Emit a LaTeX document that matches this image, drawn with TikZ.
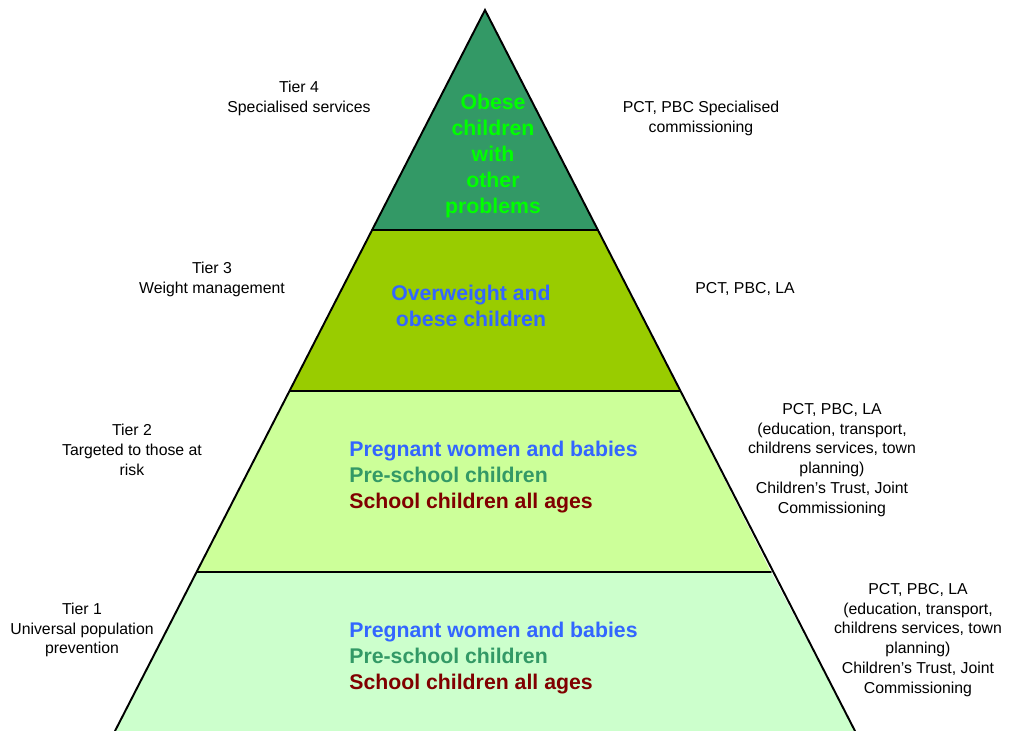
\documentclass[tikz,border=0pt]{standalone}
\usepackage{fontspec}
\setmainfont{Liberation Sans}
\usetikzlibrary{positioning}
\definecolor{TierDark}{RGB}{51,153,102}
\definecolor{TierOlive}{RGB}{153,204,0}
\definecolor{TierLime}{RGB}{204,255,153}
\definecolor{TierMint}{RGB}{204,255,204}
\definecolor{TextLime}{RGB}{0,255,0}
\definecolor{TextBlue}{RGB}{51,102,255}
\definecolor{TextTeal}{RGB}{51,153,102}
\definecolor{TextMaroon}{RGB}{128,0,0}
\tikzset{
  edge/.style={draw=black,line width=1.1pt,line cap=round,line join=miter},
  sidelabel/.style={
    align=center,
    inner sep=0pt,
    font=\fontsize{9}{11.3}\selectfont
  },
  tiertext/.style={
    inner sep=0pt,
    font=\fontsize{12.1}{14.7}\selectfont\bfseries
  }
}

\begin{document}
\begin{tikzpicture}[x=0.02cm,y=-0.02cm]

\useasboundingbox (0,0) rectangle (1009,731);

% corners of the pyramid
\coordinate (apex) at (485,10);
\coordinate (t4l) at (372,230);
\coordinate (t4r) at (598,230);
\coordinate (t3l) at (290,391);
\coordinate (t3r) at (680,391);
\coordinate (t2l) at (197,572);
\coordinate (t2r) at (771,572);
\coordinate (bl) at (115,731);
\coordinate (br) at (855,731);

% tier fills
\fill[TierDark] (apex) -- (t4r) -- (t4l) -- cycle;
\fill[TierOlive] (t4l) -- (t4r) -- (t3r) -- (t3l) -- cycle;
\fill[TierLime] (t3l) -- (t3r) -- (t2r) -- (t2l) -- cycle;
\fill[TierMint] (t2l) -- (t2r) -- (br) -- (bl) -- cycle;

% outline
\draw[edge] (bl) -- (apex) -- (br);
\draw[edge] (t4l) -- (t4r);
\draw[edge] (t3l) -- (t3r);
\draw[edge] (t2l) -- (t2r);

% text inside the tiers
\node[tiertext,align=center,text=TextLime] (in4) at (493,156)
  {Obese\\children\\with\\other\\problems};
\node[tiertext,align=center,text=TextBlue] (in3) at (471,306)
  {Overweight and\\obese children};
\node[tiertext,align=left,anchor=west] (in2) at (349,477)
  {\textcolor{TextBlue}{Pregnant women and babies}\\
   \textcolor{TextTeal}{Pre-school children}\\
   \textcolor{TextMaroon}{School children all ages}};
\node[tiertext,align=left,anchor=west] (in1) at (349,658)
  {\textcolor{TextBlue}{Pregnant women and babies}\\
   \textcolor{TextTeal}{Pre-school children}\\
   \textcolor{TextMaroon}{School children all ages}};

% tier names
\node[sidelabel] (name4) at (299,98) {Tier 4\\Specialised services};
\node[sidelabel] (name3) at (212,279) {Tier 3\\Weight management};
\node[sidelabel] (name2) at (132,450) {Tier 2\\Targeted to those at\\risk};
\node[sidelabel] (name1) at (82,630) {Tier 1\\Universal population\\prevention};

% who commissions
\node[sidelabel] (who4) at (701,118) {PCT, PBC Specialised\\commissioning};
\node[sidelabel] (who3) at (745,289) {PCT, PBC, LA};
\node[sidelabel] (who2) at (832,460)
  {PCT, PBC, LA\\(education, transport,\\childrens services, town\\planning)\\Children's Trust, Joint\\Commissioning};
\node[sidelabel] (who1) at (918,640)
  {PCT, PBC, LA\\(education, transport,\\childrens services, town\\planning)\\Children's Trust, Joint\\Commissioning};

\end{tikzpicture}
\end{document}
